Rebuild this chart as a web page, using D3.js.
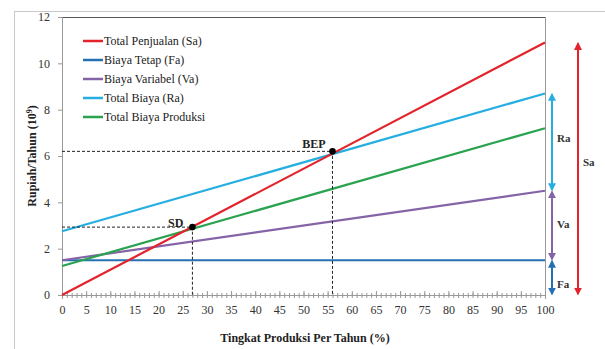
<!DOCTYPE html>
<meta charset="utf-8">
<style>
  body { margin: 0; background: #fff; }
  text { font-family: "Liberation Serif", "Times New Roman", serif; }
</style>
<body>
<script src="https://d3js.org/d3.v7.min.js"></script>
<script>
    // data: value of each line at 0% and 100% production
    var xEnds = [0, 100];
    var names = ["Total Penjualan (Sa)", "Biaya Tetap (Fa)", "Biaya Variabel (Va)", "Total Biaya (Ra)", "Total Biaya Produksi"];
    var colors = ["#e3232b", "#2470b3", "#8463a6", "#27aee0", "#2aa350"];
    var salesVals = [0, 10.9];
    var fixedVals = [1.5, 1.5];
    var variableVals = [1.5, 4.5];
    var totalVals = [2.75, 8.7];
    var productionVals = [1.25, 7.2];
    var pointNames = ["SD", "BEP"];
    var pointX = [27, 56];
    var pointY = [2.93, 6.2];
    var xTicks = d3.range(0, 101, 5);
    var yTicks = [0, 2, 4, 6, 8, 10, 12];

    var svg = d3.select("body").append("svg")
        .attr("width", 605)
        .attr("height", 349);

    // outer frame
    svg.append("rect").attr("x", 14.5).attr("y", 11.5).attr("width", 620).attr("height", 360)
        .attr("fill", "none").attr("stroke", "#c8c8c8");

    var margin = {top: 17, left: 62},
        width = 483,
        height = 278,
        g = svg.append("g").attr("transform", "translate(" + margin.left + "," + margin.top + ")");

    var x = d3.scaleLinear().domain([0, 100]).range([0, width]);
    var y = d3.scaleLinear().domain([0, 12]).range([height, 0]);

    // plot border
    g.append("line").attr("x1", 0).attr("x2", width).attr("y1", 0.5).attr("y2", 0.5).attr("stroke", "#555");
    g.append("line").attr("x1", width + 0.5).attr("x2", width + 0.5).attr("y1", 0).attr("y2", height).attr("stroke", "#999");

    // x axis with minor ticks
    var xAxis = g.append("g").attr("transform", "translate(0," + height + ")");
    xAxis.call(d3.axisBottom(x).tickValues(d3.range(0, 101, 1)).tickSize(3).tickFormat(""));
    xAxis.selectAll(".tick line").attr("stroke", "#999").attr("y1", -2);
    var xMajor = g.append("g").attr("transform", "translate(0," + height + ")")
        .call(d3.axisBottom(x).tickValues(xTicks).tickSize(4).tickPadding(6));
    xMajor.selectAll(".tick line").attr("stroke", "#999").attr("y1", -4).attr("y2", 0);
    g.selectAll(".domain").attr("stroke", "#999");
    xMajor.selectAll("text").attr("font-size", 12).attr("fill", "#333")
        .style("font-family", "Liberation Serif");

    var yAxis = g.append("g").call(d3.axisLeft(y).tickValues(yTicks).tickSize(4).tickPadding(8));
    yAxis.selectAll(".tick line").attr("stroke", "#999");
    yAxis.select(".domain").attr("stroke", "#999");
    yAxis.selectAll("text").attr("font-size", 12).attr("fill", "#333")
        .style("font-family", "Liberation Serif");

    // lines
    var series = [salesVals, fixedVals, variableVals, totalVals, productionVals];
    var line = d3.line().x(function(d) { return x(d[0]); }).y(function(d) { return y(d[1]); });
    // draw order: fixed, variable, total, production, sales on top
    [1, 2, 3, 4, 0].forEach(function(i) {
        g.append("path")
            .datum(xEnds.map(function(v, k) { return [v, series[i][k]]; }))
            .attr("fill", "none")
            .attr("stroke", colors[i])
            .attr("stroke-width", 2.2)
            .attr("d", line);
    });

    // dashed guides and points
    var labelShift = [[-9, 0], [-7, -3]];
    pointX.forEach(function(px, i) {
        var py = pointY[i];
        g.append("path")
            .attr("d", "M0," + y(py) + "H" + x(px) + "V" + y(0))
            .attr("fill", "none").attr("stroke", "#222").attr("stroke-width", 1)
            .attr("stroke-dasharray", "3,2");
        g.append("circle").attr("cx", x(px)).attr("cy", y(py)).attr("r", 3.3).attr("fill", "#000");
        g.append("text").attr("x", x(px) + labelShift[i][0]).attr("y", y(py) + labelShift[i][1])
            .attr("text-anchor", "end").attr("font-size", 12).attr("font-weight", "bold")
            .attr("fill", "#222").text(pointNames[i]);
    });

    // legend
    names.forEach(function(n, i) {
        var ly = 24 + i * 19;
        g.append("line").attr("x1", 21).attr("x2", 41).attr("y1", ly).attr("y2", ly)
            .attr("stroke", colors[i]).attr("stroke-width", 2.5);
        g.append("text").attr("x", 42).attr("y", ly + 4).attr("font-size", 12)
            .attr("fill", "#222").text(n);
    });

    // brackets on the right
    var defs = svg.append("defs");
    colors.forEach(function(c, i) {
        defs.append("marker").attr("id", "arr" + i)
            .attr("viewBox", "0 0 10 10").attr("refX", 8).attr("refY", 5)
            .attr("markerWidth", 4).attr("markerHeight", 4).attr("orient", "auto-start-reverse")
            .append("path").attr("d", "M0,0L10,5L0,10z").attr("fill", c);
    });
    var brackets = [
        {lab: "Ra", c: 3, y0: totalVals[1], y1: variableVals[1], bx: width + 7, dy: 0},
        {lab: "Va", c: 2, y0: variableVals[1], y1: fixedVals[1], bx: width + 7, dy: 2},
        {lab: "Fa", c: 1, y0: fixedVals[1], y1: 0, bx: width + 7, dy: 10},
        {lab: "Sa", c: 0, y0: salesVals[1], y1: 0, bx: width + 33, dy: -3}
    ];
    brackets.forEach(function(b) {
        g.append("line").attr("x1", b.bx).attr("x2", b.bx)
            .attr("y1", y(b.y0) + 1).attr("y2", y(b.y1) - 1)
            .attr("stroke", colors[b.c]).attr("stroke-width", 2)
            .attr("marker-start", "url(#arr" + b.c + ")").attr("marker-end", "url(#arr" + b.c + ")");
        g.append("text").attr("x", b.bx + 5).attr("y", (y(b.y0) + y(b.y1)) / 2 + b.dy)
            .attr("font-size", 11).attr("font-weight", "bold").attr("fill", "#333").text(b.lab);
    });

    // axis titles
    svg.append("text").attr("transform", "translate(36,156) rotate(-90)")
        .attr("text-anchor", "middle").attr("font-size", 12).attr("font-weight", "bold")
        .attr("fill", "#222")
        .html("Rupiah/Tahun (10<tspan dy='-4' font-size='8'>9</tspan><tspan dy='4'>)</tspan>");
    svg.append("text").attr("x", 305).attr("y", 342)
        .attr("text-anchor", "middle").attr("font-size", 12).attr("font-weight", "bold")
        .attr("fill", "#222").text("Tingkat Produksi Per Tahun (%)");
</script>
</body>
